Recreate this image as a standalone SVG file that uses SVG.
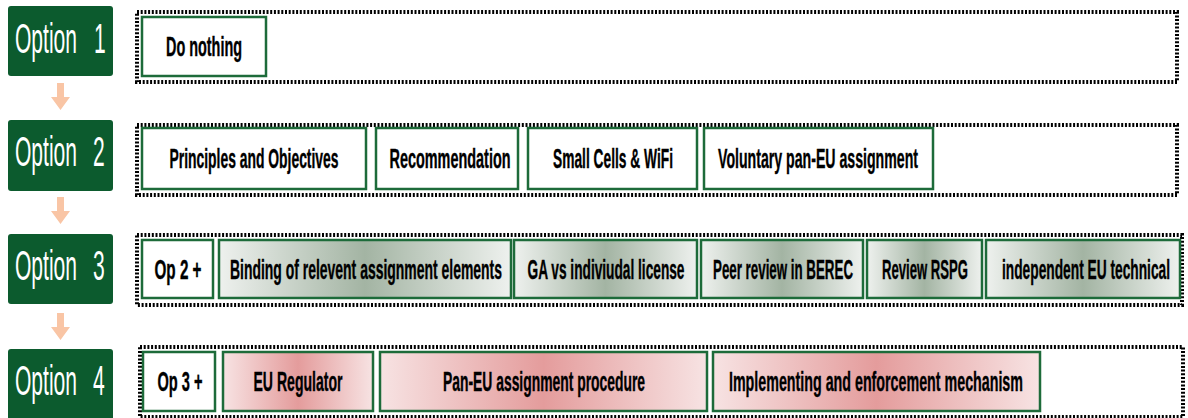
<svg xmlns="http://www.w3.org/2000/svg" width="1188" height="418" viewBox="0 0 1188 418">
<defs>
<linearGradient id="gGreen" x1="0" y1="0" x2="1" y2="0">
<stop offset="0" stop-color="#eef1ee"/>
<stop offset="0.5" stop-color="#a3b4a3"/>
<stop offset="1" stop-color="#eef1ee"/>
</linearGradient>
<linearGradient id="gPink" x1="0" y1="0" x2="1" y2="0">
<stop offset="0" stop-color="#f7e3e3"/>
<stop offset="0.5" stop-color="#e49c9c"/>
<stop offset="1" stop-color="#f7e3e3"/>
</linearGradient>
<style>
.opt{fill:#0c5b2e;}
.optt{fill:#ffffff;font-family:"Liberation Sans",Arial,sans-serif;font-size:43px;}
.cont{fill:none;stroke:#000;stroke-width:4;stroke-dasharray:2 1.7;}
.box{fill:#fff;stroke:#1d6b3a;stroke-width:2.5;}
.bg{fill:url(#gGreen);stroke:#1d6b3a;stroke-width:2.5;}
.bp{fill:url(#gPink);stroke:#1d6b3a;stroke-width:2.5;}
.t{fill:#000;font-family:"Liberation Sans",Arial,sans-serif;font-weight:bold;font-size:28px;text-anchor:middle;stroke:#000;stroke-width:0.4;}
.arr{fill:#f9c5a5;}
</style>
</defs>

<g id="connectors">
<polygon class="arr" points="57,83 64,83 64,97 70,97 60.5,110 51,97 57,97"/>
<polygon class="arr" points="57,197 64,197 64,211 70,211 60.5,224 51,211 57,211"/>
<polygon class="arr" points="57,313 64,313 64,327 70,327 60.5,340 51,327 57,327"/>
</g>

<g id="option1">
<rect class="opt" x="8" y="6" width="105" height="70" rx="3"/>
<text class="optt" transform="scale(0.49,1)" x="30.6" y="53">Option<tspan x="191.8">1</tspan></text>
</g>
<g id="option2">
<rect class="opt" x="8" y="120" width="105" height="71" rx="3"/>
<text class="optt" transform="scale(0.49,1)" x="30.6" y="166">Option<tspan x="189.8">2</tspan></text>
</g>
<g id="option3">
<rect class="opt" x="8" y="234" width="105" height="70" rx="3"/>
<text class="optt" transform="scale(0.49,1)" x="30.6" y="280">Option<tspan x="189.8">3</tspan></text>
</g>
<g id="option4">
<rect class="opt" x="8" y="349" width="105" height="72" rx="3"/>
<text class="optt" transform="scale(0.49,1)" x="30.6" y="395">Option<tspan x="189.8">4</tspan></text>
</g>

<g id="row1">
<rect class="cont" x="137" y="12" width="1040" height="70"/>
<g id="do-nothing">
<rect class="box" x="142" y="17" width="124" height="59"/>
<text class="t" transform="scale(0.52,1)" x="392.3" y="56" textLength="146.2" lengthAdjust="spacingAndGlyphs">Do nothing</text>
</g>
</g>

<g id="row2">
<rect class="cont" x="137" y="125" width="1040" height="70"/>
<g id="principles">
<rect class="box" x="142" y="128" width="224" height="61"/>
<text class="t" transform="scale(0.52,1)" x="488.5" y="168" textLength="325" lengthAdjust="spacingAndGlyphs">Principles and Objectives</text>
</g>
<g id="recommendation">
<rect class="box" x="376" y="128" width="142" height="61"/>
<text class="t" transform="scale(0.52,1)" x="865.4" y="168" textLength="232.7" lengthAdjust="spacingAndGlyphs">Recommendation</text>
</g>
<g id="small-cells">
<rect class="box" x="528" y="128" width="169" height="61"/>
<text class="t" transform="scale(0.52,1)" x="1178.8" y="168" textLength="230.8" lengthAdjust="spacingAndGlyphs">Small Cells &amp; WiFi</text>
</g>
<g id="voluntary">
<rect class="box" x="704" y="128" width="229" height="61"/>
<text class="t" transform="scale(0.52,1)" x="1573.1" y="168" textLength="384.6" lengthAdjust="spacingAndGlyphs">Voluntary pan-EU assignment</text>
</g>
</g>

<g id="row3">
<rect class="cont" x="137" y="235" width="1045" height="70"/>
<g id="op2plus">
<rect class="box" x="142" y="240" width="71" height="58"/>
<text class="t" transform="scale(0.52,1)" x="342.3" y="279" textLength="90.4" lengthAdjust="spacingAndGlyphs">Op 2 +</text>
</g>
<g id="binding">
<rect class="bg" x="219" y="240" width="292" height="58"/>
<text class="t" transform="scale(0.52,1)" x="703.8" y="279" textLength="523.1" lengthAdjust="spacingAndGlyphs">Binding of relevent assignment elements</text>
</g>
<g id="ga-license">
<rect class="bg" x="514" y="240" width="183" height="58"/>
<text class="t" transform="scale(0.52,1)" x="1165.4" y="279" textLength="301.9" lengthAdjust="spacingAndGlyphs">GA vs indiviudal license</text>
</g>
<g id="peer-review">
<rect class="bg" x="701" y="240" width="162" height="58"/>
<text class="t" transform="scale(0.52,1)" x="1505.8" y="279" textLength="269.2" lengthAdjust="spacingAndGlyphs">Peer review in BEREC</text>
</g>
<g id="review-rspg">
<rect class="bg" x="867" y="240" width="115" height="58"/>
<text class="t" transform="scale(0.52,1)" x="1778.8" y="279" textLength="165.4" lengthAdjust="spacingAndGlyphs">Review RSPG</text>
</g>
<g id="independent">
<rect class="bg" x="986" y="240" width="194" height="58"/>
<text class="t" transform="scale(0.52,1)" x="2088.5" y="279" textLength="323.1" lengthAdjust="spacingAndGlyphs">independent EU technical</text>
</g>
</g>

<g id="row4">
<rect class="cont" x="140" y="347" width="1043" height="70"/>
<g id="op3plus">
<rect class="box" x="143" y="352" width="72" height="59"/>
<text class="t" transform="scale(0.52,1)" x="346.2" y="391" textLength="86.5" lengthAdjust="spacingAndGlyphs">Op 3 +</text>
</g>
<g id="eu-regulator">
<rect class="bp" x="223" y="352" width="150" height="59"/>
<text class="t" transform="scale(0.52,1)" x="573.1" y="391" textLength="171.2" lengthAdjust="spacingAndGlyphs">EU Regulator</text>
</g>
<g id="pan-eu">
<rect class="bp" x="380" y="352" width="327" height="59"/>
<text class="t" transform="scale(0.52,1)" x="1046.2" y="391" textLength="388.5" lengthAdjust="spacingAndGlyphs">Pan-EU assignment procedure</text>
</g>
<g id="implementing">
<rect class="bp" x="713" y="352" width="327" height="59"/>
<text class="t" transform="scale(0.52,1)" x="1684.6" y="391" textLength="565.4" lengthAdjust="spacingAndGlyphs">Implementing and enforcement mechanism</text>
</g>
</g>
</svg>
